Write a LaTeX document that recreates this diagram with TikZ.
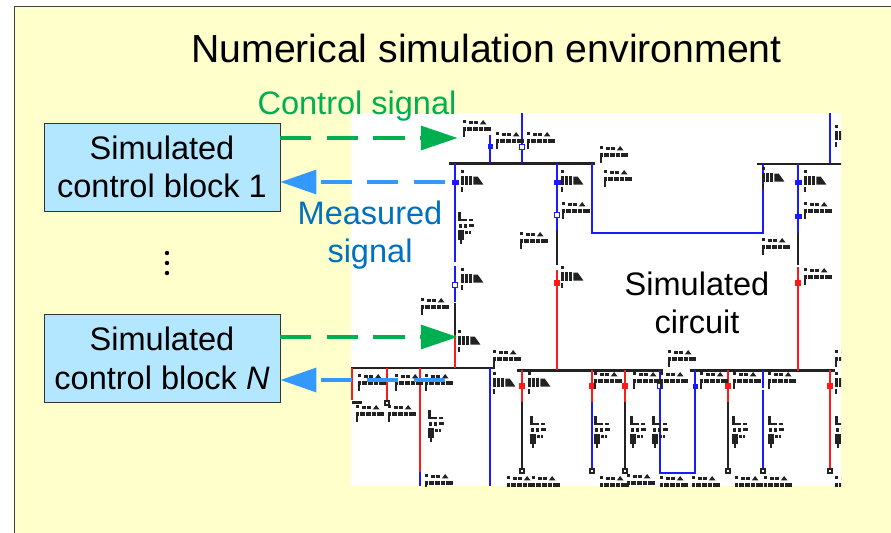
\documentclass[tikz,border=0pt]{standalone}
\usepackage{fontspec}
\setmainfont{Liberation Sans}
\usetikzlibrary{arrows.meta}
\definecolor{paper}{HTML}{FFFFCC}
\definecolor{boxfill}{HTML}{B3E6FF}
\definecolor{ctrl}{HTML}{00B050}
\definecolor{meas}{HTML}{3399FF}
\definecolor{measlabel}{HTML}{0070C0}
\definecolor{wireb}{HTML}{1A1AFF}
\definecolor{wirer}{HTML}{FF1A1A}
\definecolor{wirek}{HTML}{222222}
\newcommand{\txt}{\fontsize{24.4}{29}\selectfont}
\newcommand{\ttl}{\fontsize{29.4}{35}\selectfont}
\newcommand{\blk}[4]{\fill[wirek] (#1,#2) rectangle ++(#3,#4);}
% two-row pixel label
\newcommand{\lta}[2]{\begin{scope}[shift={(#1,#2)},scale=1.12]
 \blk{0}{0}{3}{3}\blk{5}{1}{4}{3}\blk{10}{1}{3}{3}\fill[wirek] (15,4)--(18,0)--(21,4)--cycle;
 \blk{0}{6}{3}{3.5}\blk{4}{6}{4}{3.5}\blk{9}{6}{4}{3.5}\blk{14}{6}{4}{3.5}\blk{19}{6}{6}{3.5}
 \blk{0}{10}{1.8}{5}\end{scope}}
% single tall row pixel label
\newcommand{\ltb}[2]{\begin{scope}[shift={(#1,#2)},scale=1.12]
 \blk{0}{0}{3}{3}\blk{0}{5}{2.4}{8}\blk{3.4}{5}{2.4}{8}\blk{7}{5}{3}{8}\fill[wirek] (11,13)--(11,6)--(15,6)--(20,13)--cycle;
 \blk{0}{15}{1.8}{5}\end{scope}}
% vertical three-row pixel label
\newcommand{\ltc}[2]{\begin{scope}[shift={(#1,#2)},scale=1.12]
 \blk{0}{0}{2.4}{8}\blk{2}{6}{6}{2.4}\blk{10}{6}{3}{2.4}
 \blk{1}{11}{3}{3}\blk{5}{11}{3}{3}\blk{10}{11}{4}{2.4}
 \blk{0}{16}{5}{9}\blk{6}{17}{3}{2.4}\blk{10}{17}{2}{2.4}\blk{2}{25}{2}{4}\end{scope}}
\tikzset{x=0.75pt,y=-0.75pt,
  txtnode/.style={inner sep=0pt,align=center,font=\txt},
  ctrlblock/.style={draw=black!80,line width=0.6pt,fill=boxfill,minimum width=177pt,minimum height=66pt,inner sep=0pt,align=center,font=\txt},
  ctrlarrow/.style={draw=ctrl,line width=2.4pt,dash pattern=on 23.3pt off 11.6pt,-{Triangle[length=27.5pt,width=18pt,fill=ctrl]}},
  measarrow/.style={draw=meas,line width=2.4pt,dash pattern=on 23.3pt off 11.6pt,-{Triangle[length=27pt,width=18pt,fill=meas]}},
  bus/.style={draw=wirek,line width=2pt},
  wb/.style={draw=wireb,line width=2.1pt},
  wr/.style={draw=wirer,line width=2.1pt},
  wk/.style={draw=wirek,line width=1.9pt},
}
\begin{document}
\begin{tikzpicture}
\useasboundingbox (0,0) rectangle (891,532);
\clip (0,0) rectangle (891,532);
\fill[white] (0,0) rectangle (891,532);
\draw[draw=black!75,line width=0.9pt,fill=paper] (14.5,6.5) rectangle (900,545);
\fill[white] (351,113) rectangle (841,486);
\begin{scope}
\clip (351,113) rectangle (841,486);
% buses
\foreach \xa/\ya/\xb in {449/163.5/595,757/164/845,351/368/495,517/370.5/663,690/370.5/835}
  {\draw[bus] (\xa,\ya) -- (\xb,\ya);}
% blue wires
\foreach \xa/\ya/\xb/\yb in {490/135/490/163,522/113/522/163,830/113/830/163,
  455/163/455/262,455/266/455/302,557/163/557/230,798/164/798/233,
  420/472/420/486,490/368/490/486,592/402/592/470,763/390/763/470}
  {\draw[wb] (\xa,\ya) -- (\xb,\yb);}
\draw[wb] (592,163) -- (592,233) -- (763,233) -- (763,164);
\draw[wb] (660,370) -- (660,473) -- (695,473) -- (695,370);
\draw[wb] (763,370) -- (763,388);
% red wires
\foreach \xa/\ya/\xb/\yb in {557/270/557/370,798/267/798/371,455/335/455/368,
  352/368/352/400,387/368/387/400,420/368/420/472,522/370/522/402,592/370/592/402,
  625/370/625/402,728/370/728/402,830/370/830/470}
  {\draw[wr] (\xa,\ya) -- (\xb,\yb);}
% black wires
\foreach \xa/\ya/\xb/\yb in {557/230/557/265,798/233/798/265,455/303/455/335,
  522/402/522/470,625/402/625/470,728/402/728/470}
  {\draw[wk] (\xa,\ya) -- (\xb,\yb);}
% markers
\foreach \x/\y in {455/182,557/182,798/182,798/216}
  {\fill[wireb] (\x-3.5,\y-2.5) rectangle (\x+3.5,\y+2.5);}
\foreach \x/\y in {490/146,695/386}
  {\fill[wireb] (\x-2.5,\y-2.5) rectangle (\x+2.5,\y+2.5);}
\foreach \x/\y in {557/215,455/285,522/147,660/386}
  {\draw[draw=wireb,line width=1pt,fill=white] (\x-2.5,\y-2.5) rectangle (\x+2.5,\y+2.5);}
\foreach \x/\y in {557/283,798/283,522/386,592/386,625/386,728/386,830/386}
  {\fill[wirer] (\x-3,\y-3) rectangle (\x+3,\y+3);}
\foreach \x/\y in {522/471,625/471,728/471,592/471,763/471,830/471,387/403}
  {\draw[draw=wirek,line width=0.9pt,fill=white] (\x-2,\y-2) rectangle (\x+2,\y+2);}
\blk{352}{401}{10}{3}
% pixel-size labels
\foreach \x/\y in {496/132,527/132,600/146,562/202,604/170,520/232,804/202,762/238,804/268,
  594/372,633/372,660/372,700/372,733/372,768/372,358/374,395/374,425/374,
  668/350,493/350,463/120,421/298,835/350,425/474,627/474,764/476,600/476,835/476,
  356/405,388/405,507/476,532/476,660/476,692/476,735/476}
  {\lta{\x}{\y}}
\foreach \x/\y in {461/170,561/170,461/268,561/266,804/170,762/167,458/330,493/372,528/372,835/125,835/372}
  {\ltb{\x}{\y}}
\foreach \x/\y in {458/212,428/410,530/416,594/416,630/416,652/416,732/416,768/416,835/416}
  {\ltc{\x}{\y}}
\end{scope}
% text and blocks
\node[inner sep=0pt,font=\ttl] (title) at (486.5,48) {Numerical simulation environment};
\node[txtnode,text=ctrl] (ctrllab) at (357,106) {Control signal};
\node[txtnode,text=measlabel] (measlab) at (370,235) {Measured\\signal};
\node[txtnode] (circ) at (697,303) {Simulated\\circuit};
\node[ctrlblock] (b1) at (162,167) {Simulated\\control block 1};
\node[ctrlblock] (b2) at (162,358.5) {Simulated\\control block \textit{N}};
\foreach \y in {253,263,273}
  {\fill (167,\y) circle (2.2);}
% connectors
\coordinate (g1) at (457.5,138);
\coordinate (g2) at (457.5,337);
\coordinate (m1) at (445,182);
\coordinate (m2) at (445,380);
\draw[ctrlarrow] (b1.east |- g1) -- (g1);
\draw[ctrlarrow] (b2.east |- g2) -- (g2);
\draw[measarrow] (m1) -- (b1.east |- m1);
\draw[measarrow] (m2) -- (b2.east |- m2);
\end{tikzpicture}
\end{document}
